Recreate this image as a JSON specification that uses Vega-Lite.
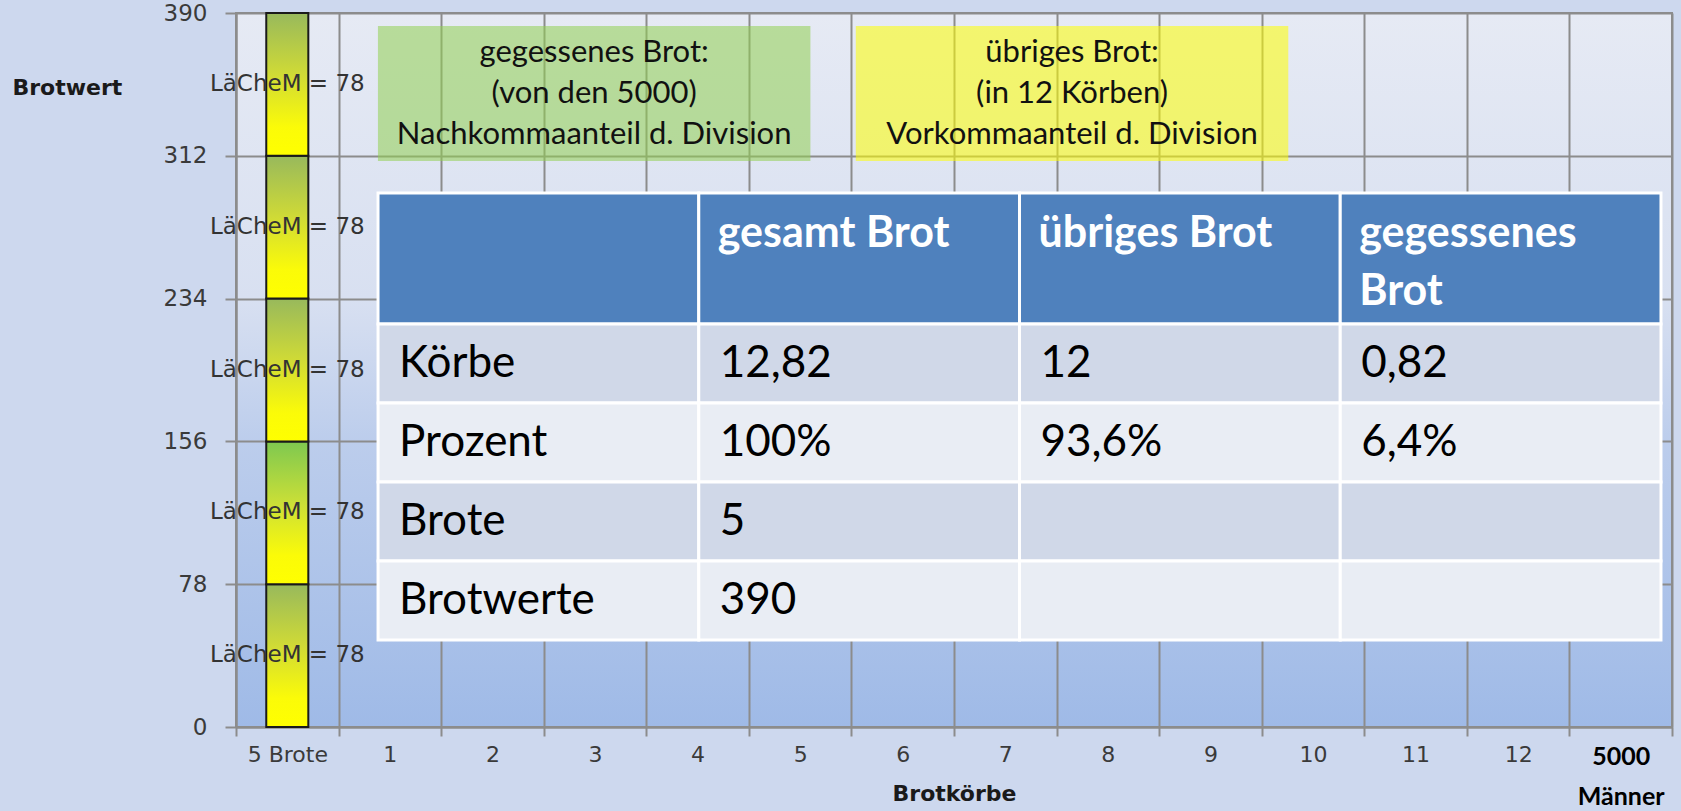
{
  "$schema": "https://vega.github.io/schema/vega-lite/v6.json",
  "width": 1436,
  "height": 714,
  "autosize": {"type": "none"},
  "padding": {"left": 236, "top": 13, "right": 9, "bottom": 84},
  "background": "#cdd8ee",
  "view": {
    "stroke": "#8c8c8c",
    "strokeWidth": 2,
    "fill": {"gradient": "linear", "x1": 0, "y1": 0, "x2": 0, "y2": 1,
      "stops": [
        {"offset": 0, "color": "#e6eaf4"},
        {"offset": 0.4, "color": "#d8e0f1"},
        {"offset": 0.6, "color": "#bccdec"},
        {"offset": 1, "color": "#9fbae7"}
      ]}
  },
  "datasets": {
    "balken": [
      {"kat": "5 Brote", "seg": 1, "wert": 78, "label": "LäCheM = 78"},
      {"kat": "5 Brote", "seg": 2, "wert": 78, "label": "LäCheM = 78"},
      {"kat": "5 Brote", "seg": 3, "wert": 78, "label": "LäCheM = 78"},
      {"kat": "5 Brote", "seg": 4, "wert": 78, "label": "LäCheM = 78"},
      {"kat": "5 Brote", "seg": 5, "wert": 78, "label": "LäCheM = 78"}
    ],
    "kaesten": [
      {"kasten": "gegessen", "ebene": "oben", "zeilen": ["gegessenes  Brot:", "(von den 5000)", "Nachkommaanteil d. Division"]},
      {"kasten": "übrig", "ebene": "oben", "zeilen": ["übriges Brot:", "(in 12 Körben)", "Vorkommaanteil d. Division"]}
    ],
    "kopf": [
      {"spalte": "Zeile", "ebene": "kopf", "text": [""]},
      {"spalte": "gesamt Brot", "ebene": "kopf", "text": ["gesamt Brot"]},
      {"spalte": "übriges Brot", "ebene": "kopf", "text": ["übriges Brot"]},
      {"spalte": "gegessenes Brot", "ebene": "kopf", "text": ["gegessenes", "Brot"]}
    ],
    "koerper": [
      {"zeile": "Körbe", "spalte": "Zeile", "text": "Körbe"},
      {"zeile": "Körbe", "spalte": "gesamt Brot", "text": "12,82"},
      {"zeile": "Körbe", "spalte": "übriges Brot", "text": "12"},
      {"zeile": "Körbe", "spalte": "gegessenes Brot", "text": "0,82"},
      {"zeile": "Prozent", "spalte": "Zeile", "text": "Prozent"},
      {"zeile": "Prozent", "spalte": "gesamt Brot", "text": "100%"},
      {"zeile": "Prozent", "spalte": "übriges Brot", "text": "93,6%"},
      {"zeile": "Prozent", "spalte": "gegessenes Brot", "text": "6,4%"},
      {"zeile": "Brote", "spalte": "Zeile", "text": "Brote"},
      {"zeile": "Brote", "spalte": "gesamt Brot", "text": "5"},
      {"zeile": "Brote", "spalte": "übriges Brot", "text": ""},
      {"zeile": "Brote", "spalte": "gegessenes Brot", "text": ""},
      {"zeile": "Brotwerte", "spalte": "Zeile", "text": "Brotwerte"},
      {"zeile": "Brotwerte", "spalte": "gesamt Brot", "text": "390"},
      {"zeile": "Brotwerte", "spalte": "übriges Brot", "text": ""},
      {"zeile": "Brotwerte", "spalte": "gegessenes Brot", "text": ""}
    ]
  },
  "layer": [
    {
      "data": {"name": "balken"},
      "encoding": {
        "x": {
          "field": "kat", "type": "nominal",
          "scale": {"domain": ["5 Brote", "1", "2", "3", "4", "5", "6", "7", "8", "9", "10", "11", "12", "5000 Männer"], "paddingInner": 0, "paddingOuter": 0},
          "axis": {
            "title": "Brotkörbe",
            "titleFont": "DejaVu Sans", "titleFontSize": 22, "titleFontWeight": "bold", "titleColor": "#1a1a1a",
            "titleY": 66, "titleBaseline": "middle",
            "labelAngle": 0,
            "tickBand": "extent",
            "grid": true, "gridColor": "#8c8c8c", "gridWidth": 2,
            "domainColor": "#8c8c8c", "domainWidth": 2,
            "tickColor": "#8c8c8c", "tickWidth": 2, "tickSize": 9,
            "labelPadding": 8,
            "labelExpr": "datum.value == '5000 Männer' ? ['5000', 'Männer'] : datum.label",
            "labelLineHeight": 40,
            "labelFont": {"condition": {"test": "datum.value == '5000 Männer'", "value": "Lato"}, "value": "DejaVu Sans"},
            "labelFontSize": {"condition": {"test": "datum.value == '5000 Männer'", "value": 25}, "value": 22},
            "labelFontWeight": {"condition": {"test": "datum.value == '5000 Männer'", "value": "bold"}, "value": "normal"},
            "labelColor": {"condition": {"test": "datum.value == '5000 Männer'", "value": "#000000"}, "value": "#3a3a3a"}
          }
        },
        "y": {
          "field": "wert", "type": "quantitative", "stack": "zero",
          "scale": {"domain": [0, 390], "nice": false},
          "axis": {
            "values": [0, 78, 156, 234, 312, 390],
            "title": "Brotwert",
            "titleFont": "DejaVu Sans", "titleFontSize": 22, "titleFontWeight": "bold", "titleColor": "#1a1a1a",
            "titleAngle": 0, "titleX": -224, "titleY": 74, "titleAlign": "left", "titleBaseline": "middle",
            "grid": true, "gridColor": "#8c8c8c", "gridWidth": 2,
            "domainColor": "#8c8c8c", "domainWidth": 2,
            "tickColor": "#8c8c8c", "tickWidth": 2, "tickSize": 11,
            "labelPadding": 18,
            "labelFont": "DejaVu Sans", "labelFontSize": 23, "labelColor": "#3a3a3a"
          }
        },
        "detail": {"field": "seg"},
        "order": {"field": "seg", "type": "quantitative"}
      },
      "layer": [
        {
          "mark": {"type": "bar", "width": {"band": 0.41}, "stroke": "#1a1a1a", "strokeWidth": 2},
          "encoding": {
            "fill": {
              "condition": {"test": "datum.seg == 2", "value": {"gradient": "linear", "x1": 0, "y1": 0, "x2": 0, "y2": 1,
                "stops": [
                  {"offset": 0, "color": "#7ec850"},
                  {"offset": 0.45, "color": "#cde036"},
                  {"offset": 0.8, "color": "#fbfb08"},
                  {"offset": 1, "color": "#ffff00"}
                ]}},
              "value": {"gradient": "linear", "x1": 0, "y1": 0, "x2": 0, "y2": 1,
                "stops": [
                  {"offset": 0, "color": "#98b95c"},
                  {"offset": 0.45, "color": "#d2dc34"},
                  {"offset": 0.8, "color": "#fbfb08"},
                  {"offset": 1, "color": "#ffff00"}
                ]}
            }
          }
        },
        {
          "mark": {"type": "text", "dy": 71, "font": "DejaVu Sans", "fontSize": 23, "color": "#333333", "baseline": "middle", "align": "center"},
          "encoding": {"text": {"field": "label"}}
        }
      ]
    },
    {
      "data": {"name": "kaesten"},
      "encoding": {
        "x": {"field": "kasten", "type": "nominal", "axis": null,
          "scale": {"domain": ["gegessen", "übrig"], "paddingInner": 0.095, "paddingOuter": 0.55, "align": 0.27}},
        "y": {"field": "ebene", "type": "nominal", "axis": null,
          "scale": {"domain": ["oben"], "range": [13, 148], "paddingInner": 0, "paddingOuter": 0}}
      },
      "layer": [
        {
          "mark": {"type": "rect", "opacity": 0.55},
          "encoding": {
            "fill": {"field": "kasten", "type": "nominal", "legend": null,
              "scale": {"domain": ["gegessen", "übrig"], "range": ["#92d050", "#ffff00"]}}
          }
        },
        {
          "mark": {"type": "text", "font": "Lato", "fontSize": 31, "lineHeight": 41, "dy": -41, "color": "#111111", "align": "center", "baseline": "middle"},
          "encoding": {"text": {"field": "zeilen"}}
        }
      ]
    },
    {
      "data": {"name": "kopf"},
      "encoding": {
        "x": {"field": "spalte", "type": "nominal", "axis": null,
          "scale": {"domain": ["Zeile", "gesamt Brot", "übriges Brot", "gegessenes Brot"], "paddingInner": 0, "paddingOuter": 0.2386, "align": 0.928}},
        "y": {"field": "ebene", "type": "nominal", "axis": null,
          "scale": {"domain": ["kopf"], "range": [180, 311], "paddingInner": 0, "paddingOuter": 0}}
      },
      "layer": [
        {
          "mark": {"type": "rect", "fill": "#4f81bd", "stroke": "#ffffff", "strokeWidth": 3}
        },
        {
          "mark": {"type": "text", "font": "Lato", "fontSize": 43, "fontWeight": "bold", "lineHeight": 58, "color": "#ffffff", "align": "left", "baseline": "top", "dx": 19, "dy": 20},
          "encoding": {
            "x": {"field": "spalte", "type": "nominal", "bandPosition": 0},
            "y": {"field": "ebene", "type": "nominal", "bandPosition": 0},
            "text": {"field": "text"}
          }
        }
      ]
    },
    {
      "data": {"name": "koerper"},
      "encoding": {
        "x": {"field": "spalte", "type": "nominal", "axis": null,
          "scale": {"domain": ["Zeile", "gesamt Brot", "übriges Brot", "gegessenes Brot"], "paddingInner": 0, "paddingOuter": 0.2386, "align": 0.928}},
        "y": {"field": "zeile", "type": "nominal", "axis": null,
          "scale": {"domain": ["Körbe", "Prozent", "Brote", "Brotwerte"], "range": [311, 627], "paddingInner": 0, "paddingOuter": 0}}
      },
      "layer": [
        {
          "mark": {"type": "rect", "stroke": "#ffffff", "strokeWidth": 3},
          "encoding": {
            "fill": {"field": "zeile", "type": "nominal", "legend": null,
              "scale": {"domain": ["Körbe", "Prozent", "Brote", "Brotwerte"], "range": ["#d0d8e8", "#e9edf4", "#d0d8e8", "#e9edf4"]}}
          }
        },
        {
          "mark": {"type": "text", "font": "Lato", "fontSize": 44, "color": "#000000", "align": "left", "baseline": "middle", "dx": 21},
          "encoding": {
            "x": {"field": "spalte", "type": "nominal", "bandPosition": 0},
            "text": {"field": "text"}
          }
        }
      ]
    }
  ],
  "resolve": {"scale": {"x": "independent", "y": "independent", "fill": "independent"}}
}
